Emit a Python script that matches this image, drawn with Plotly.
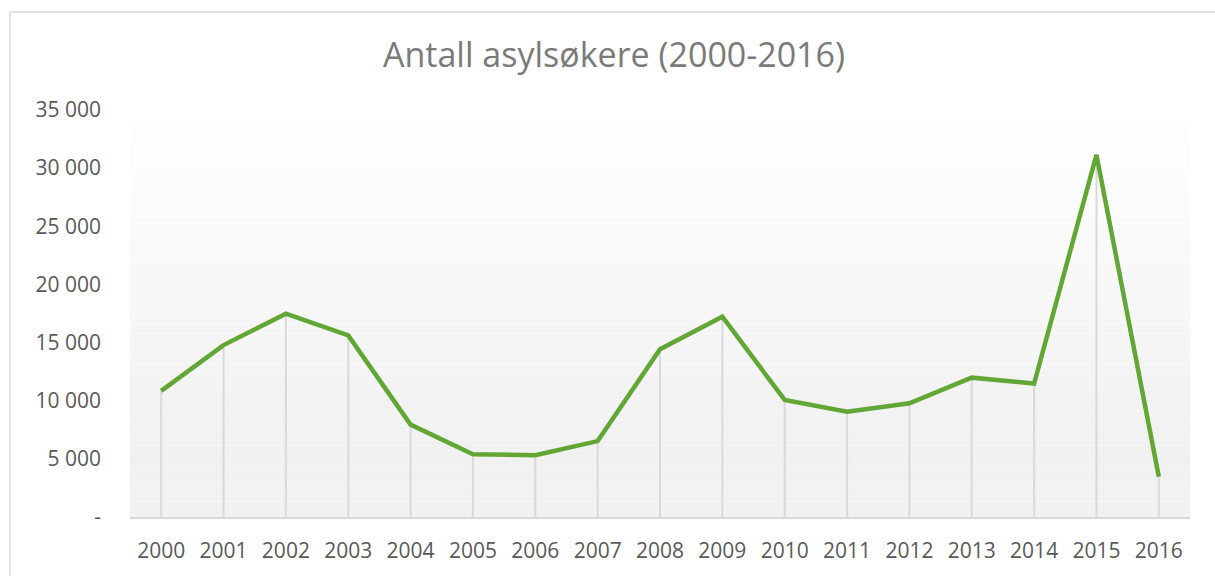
import plotly.graph_objects as go

years = ["2000", "2001", "2002", "2003", "2004", "2005", "2006", "2007", "2008",
         "2009", "2010", "2011", "2012", "2013", "2014", "2015", "2016"]
applicants = [10843, 14782, 17480, 15610, 7945, 5402, 5320, 6528, 14431,
              17226, 10064, 9053, 9785, 11983, 11480, 31145, 3460]
y_tickvals = [0, 5000, 10000, 15000, 20000, 25000, 30000, 35000]
y_ticktext = ["-", "5 000", "10 000", "15 000", "20 000", "25 000", "30 000", "35 000"]
title_text = "Antall asylsøkere (2000-2016)"

FONT = "'Open Sans', Lato, sans-serif"

# drop lines from each point to the axis
drop_x, drop_y = [], []
for yr, v in zip(years, applicants):
    drop_x += [yr, yr, None]
    drop_y += [0, v, None]

fig = go.Figure()
fig.add_trace(go.Scatter(x=drop_x, y=drop_y, mode="lines",
                         line=dict(color="#d9d9d9", width=2),
                         hoverinfo="skip", showlegend=False))
fig.add_trace(go.Scatter(x=years, y=applicants, mode="lines",
                         line=dict(color="#62a735", width=4.5),
                         showlegend=False))

# gradient plot background
shapes = []
n = 80
top_c = (255, 255, 255)
bot_c = (241, 241, 241)
for i in range(n):
    t = i / (n - 1)
    f = min(1.0, t * 1.25)
    c = tuple(round(top_c[k] + (bot_c[k] - top_c[k]) * f) for k in range(3))
    y1 = 1 - i / n
    y0 = 1 - (i + 1) / n
    shapes.append(dict(type="rect", xref="paper", yref="paper", x0=0, x1=1,
                       y0=y0, y1=y1, fillcolor="rgb(%d,%d,%d)" % c,
                       line=dict(width=0), layer="below"))

# chart frame (left and top edges)
shapes.append(dict(type="line", xref="paper", yref="paper", x0=-0.1132, x1=-0.1132,
                   y0=1.2409, y1=-0.3, line=dict(color="#d9d9d9", width=1.5)))
shapes.append(dict(type="line", xref="paper", yref="paper", x0=-0.1132, x1=1.1,
                   y0=1.2409, y1=1.2409, line=dict(color="#d9d9d9", width=1.5)))

fig.update_layout(
    width=1215, height=576,
    margin=dict(l=130, r=25, t=110, b=55),
    paper_bgcolor="white", plot_bgcolor="rgba(0,0,0,0)",
    shapes=shapes,
    title=dict(text=title_text, x=614 / 1215, xref="container", xanchor="center",
               y=1 - 55 / 576, yref="container", yanchor="middle",
               font=dict(family=FONT, size=34, color="#7a7a7a")),
    xaxis=dict(type="category", range=[-0.5, 16.5], showgrid=False,
               showline=True, linecolor="#d9d9d9", linewidth=2,
               ticks="", ticklabelstandoff=14,
               tickfont=dict(family=FONT, size=21, color="#595959")),
    yaxis=dict(range=[0, 35000], tickvals=y_tickvals, ticktext=y_ticktext,
               showgrid=False, zeroline=False, showline=False, ticks="",
               ticklabelstandoff=28,
               tickfont=dict(family=FONT, size=21, color="#595959")),
    hovermode=False,
)

fig.write_html("out.html", config={"displayModeBar": False},
               post_script="document.body.style.margin='0px';")
